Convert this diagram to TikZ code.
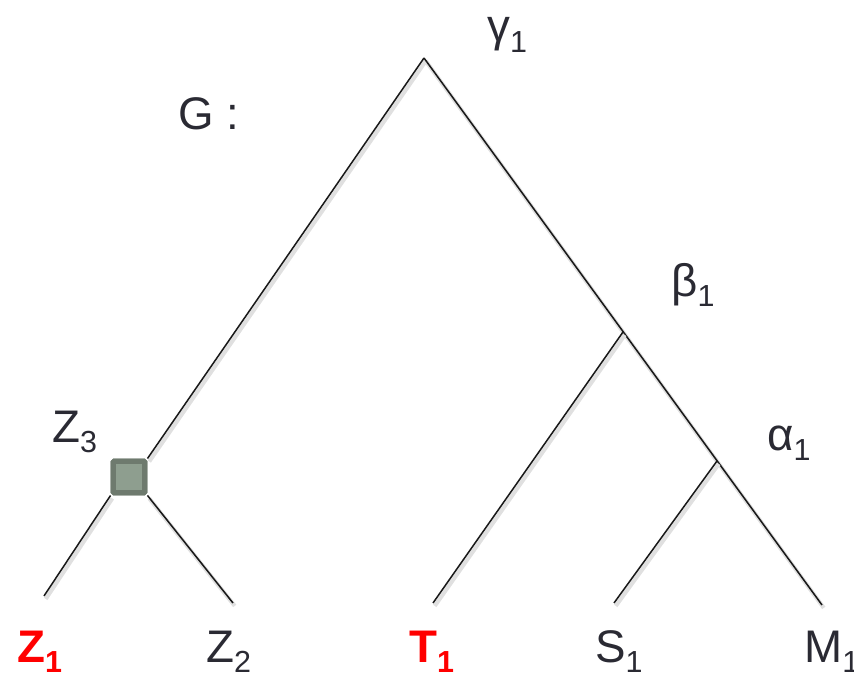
\documentclass[tikz,border=0pt]{standalone}
\usepackage{fontspec}
\setmainfont{Liberation Sans}
\definecolor{inkgray}{HTML}{2A2A33}
\definecolor{boxedge}{HTML}{6E7A6E}
\definecolor{boxfill}{HTML}{8E9E8F}
\newcommand\subidx[1]{\raisebox{-9pt}{\fontsize{26}{30}\selectfont #1}}
\tikzset{
  branch/.style={draw=black!90, line width=1.3pt,
    preaction={draw=black!12, line width=3.5pt, transform canvas={shift={(1.5pt,-2.5pt)}}}},
  lbl/.style={anchor=base west, inner sep=0pt, text=inkgray, font=\fontsize{39}{45}\selectfont},
  hot/.style={lbl, text=red, font=\fontsize{39}{45}\selectfont\bfseries},
  joinbox/.style={draw=boxedge, fill=boxfill, line width=4.5pt, minimum size=0.95cm,
    inner sep=0pt, rounded corners=1pt}
}
\begin{document}
\begin{tikzpicture}[x=0.03cm, y=-0.03cm]
  \useasboundingbox (0,0) rectangle (854,674);
  % Tree points
  \coordinate (root) at (424,58);
  \coordinate (b1) at (623,332);
  \coordinate (a1) at (717,461);
  \coordinate (z1end) at (44,596);
  \coordinate (z2end) at (233,603);
  \coordinate (t1end) at (433,603);
  \coordinate (s1end) at (614,603);
  \coordinate (m1end) at (822,605);
  \node[joinbox] (z3) at (129,477) {};

  % Branches
  \path[branch] (root) -- (z3.north east);
  \path[branch] (z3.south west) -- (z1end);
  \path[branch] (z3.south east) -- (z2end);
  \path[branch] (root) -- (m1end);
  \path[branch] (b1) -- (t1end);
  \path[branch] (a1) -- (s1end);
  \node[joinbox] at (z3) {};

  % Labels
  \node[lbl] (gamma) at (487,42) {γ\subidx{1}};
  \node[lbl] (gname) at (178,129) {G :};
  \node[lbl] (beta) at (671,296) {β\subidx{1}};
  \node[lbl] (zthree) at (52,442) {Z\subidx{3}};
  \node[lbl] (alpha) at (767,450) {α\subidx{1}};

  % Leaves
  \node[hot] (zone) at (17,662) {Z\subidx{1}};
  \node[lbl] (ztwo) at (206,662) {Z\subidx{2}};
  \node[hot] (tone) at (409,662) {T\subidx{1}};
  \node[lbl] (sone) at (595,662) {S\subidx{1}};
  \node[lbl] (mone) at (804,662) {M\subidx{1}};
\end{tikzpicture}
\end{document}
